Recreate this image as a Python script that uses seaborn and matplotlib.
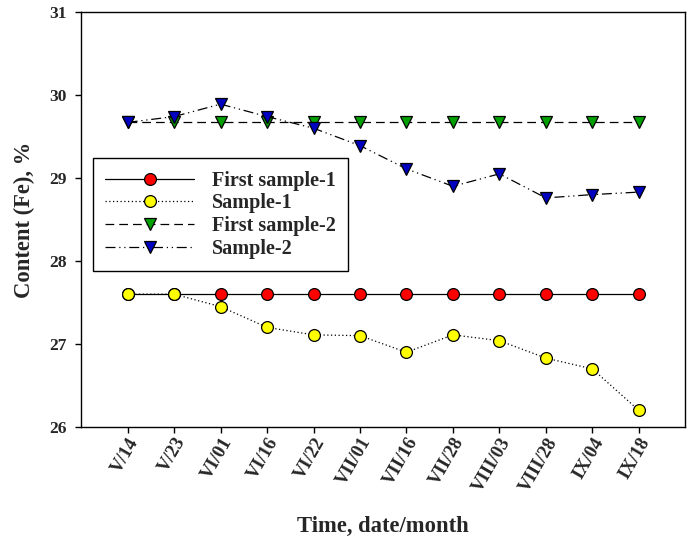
import numpy as np
import pandas as pd
import matplotlib
matplotlib.use("Agg")
import matplotlib.pyplot as plt
import seaborn as sns

dates = ["V/14", "V/23", "VI/01", "VI/16", "VI/22", "VII/01", "VII/16",
         "VII/28", "VIII/03", "VIII/28", "IX/04", "IX/18"]
first_sample_1 = [27.6] * 12
sample_1 = [27.6, 27.6, 27.45, 27.2, 27.11, 27.1, 26.9, 27.11, 27.04, 26.83, 26.7, 26.2]
first_sample_2 = [29.67] * 12
sample_2 = [29.67, 29.74, 29.89, 29.74, 29.6, 29.39, 29.11, 28.9, 29.05, 28.76, 28.8, 28.83]

sns.set_style("ticks")
plt.rcParams["font.family"] = ["Liberation Serif", "DejaVu Serif"]
plt.rcParams["font.weight"] = "bold"

fig = plt.figure(figsize=(6.88, 5.46), dpi=100)
ax = fig.add_axes([0.118, 0.218, 0.878, 0.760])

series = [
    ("First sample-1", first_sample_1, "-", "o", "#ff0000"),
    ("Sample-1", sample_1, (0, (1, 2)), "o", "#ffff00"),
    ("First sample-2", first_sample_2, (0, (7, 4)), "v", "#00a000"),
    ("Sample-2", sample_2, (0, (8, 3, 1, 3, 1, 3)), "v", "#0000c0"),
]
for name, vals, ls, mk, col in series:
    df = pd.DataFrame({"date": dates, "val": vals})
    sns.lineplot(data=df, x="date", y="val", ax=ax, color="black", lw=0.9,
                 linestyle=ls, marker=mk, markersize=8.5, markerfacecolor=col,
                 markeredgecolor="black", markeredgewidth=0.9, label=name,
                 sort=False)

ax.set_xlim(-1, 12)
ax.set_ylim(26, 31)
ax.set_yticks([26, 27, 28, 29, 30, 31])
ax.set_xticks(range(len(dates)))
ax.set_xticklabels(dates, rotation=60, ha="right", va="top",
                   rotation_mode="anchor", fontsize=13.5, fontweight="bold")
for t in ax.get_yticklabels():
    t.set_fontsize(12.5)
    t.set_fontweight("bold")
ax.tick_params(direction="out", length=4.5, width=1, color="black")
ax.tick_params(axis="y", pad=6)
ax.tick_params(axis="x", pad=1)
for s in ax.spines.values():
    s.set_color("black")
    s.set_linewidth(1)
ax.set_xlabel("Time, date/month", fontsize=16.3, fontweight="bold", labelpad=15)
ax.set_ylabel("Content (Fe), %", fontsize=16.3, fontweight="bold", labelpad=10)

leg = ax.legend(loc="upper left", bbox_to_anchor=(0.02, 0.647), fancybox=False,
                edgecolor="black", framealpha=1, handlelength=4.4,
                prop={"size": 14.5, "weight": "bold"}, borderpad=0.6,
                labelspacing=0.14, handletextpad=0.9, borderaxespad=0)
leg.get_frame().set_linewidth(1)

fig.savefig("out.png", dpi=100)
